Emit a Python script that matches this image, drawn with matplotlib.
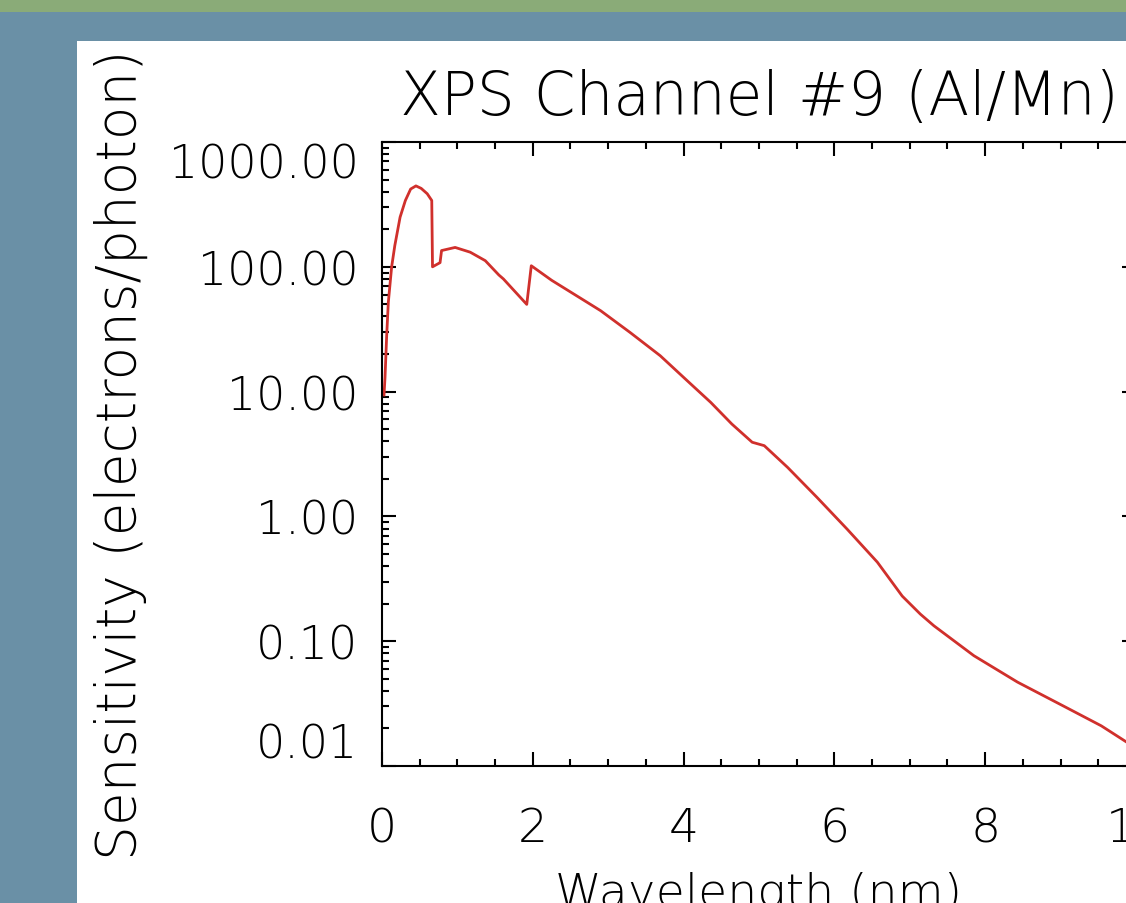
import numpy as np
import matplotlib
matplotlib.use('Agg')
import matplotlib.pyplot as plt
from matplotlib.patches import Rectangle
from matplotlib.ticker import FixedLocator, LogLocator, MultipleLocator, NullFormatter

plt.rcParams['font.family'] = ['DejaVu Sans']
plt.rcParams['font.weight'] = 'light'
plt.rcParams['axes.titleweight'] = 'light'
plt.rcParams['axes.labelweight'] = 'light'

# wavelength (nm) and sensitivity (electrons/photon)
wavelength = [0.027, 0.04, 0.062, 0.084, 0.128, 0.17, 0.24, 0.31, 0.38, 0.45,
              0.52, 0.60, 0.66, 0.67, 0.77, 0.79, 0.97, 1.17, 1.37, 1.55,
              1.61, 1.92, 1.98, 2.25, 2.72, 2.90, 3.29, 3.69, 4.05, 4.36,
              4.64, 4.91, 5.07, 5.38, 5.77, 6.17, 6.57, 6.90, 7.14, 7.32,
              7.85, 8.43, 9.05, 9.54, 9.88, 10.0]
sensitivity = [9.4, 13, 28, 52, 100, 148, 250, 340, 420, 445,
               425, 385, 340, 100, 108, 135, 143, 131, 112, 86,
               80, 50, 102, 78, 52, 44.5, 29.8, 19.4, 12.2, 8.2,
               5.5, 3.93, 3.69, 2.47, 1.42, 0.79, 0.43, 0.23, 0.165, 0.133,
               0.0766, 0.047, 0.030, 0.021, 0.0155, 0.0145]

ytick_vals = [0.01, 0.1, 1, 10, 100, 1000]
xtick_vals = [0, 2, 4, 6, 8, 10]

fig = plt.figure(figsize=(11.26, 9.04), dpi=100)
fig.patch.set_facecolor('#6a90a6')
fig.add_artist(Rectangle((0, 0.9856), 1, 0.0144, transform=fig.transFigure,
                         facecolor='#8aab78', edgecolor='none', zorder=-10))
fig.add_artist(Rectangle((0.0684, 0), 0.9316, 0.9535, transform=fig.transFigure,
                         facecolor='white', edgecolor='none', zorder=-10))

ax = fig.add_axes([0.33925, 0.1515, 0.6696, 0.6903])
ax.plot(wavelength, sensitivity, color='#d0302c', lw=2)

ax.set_yscale('log')
ax.set_xlim(0, 10)
ax.set_ylim(0.01, 1000)

ax.xaxis.set_major_locator(FixedLocator(xtick_vals))
ax.xaxis.set_minor_locator(MultipleLocator(0.5))
ax.yaxis.set_major_locator(FixedLocator(ytick_vals))
ax.yaxis.set_minor_locator(LogLocator(base=10, subs=np.arange(2, 10)))
ax.yaxis.set_minor_formatter(NullFormatter())
ax.set_yticklabels(['%.2f' % v for v in ytick_vals])
ax.set_xticklabels([str(v) for v in xtick_vals])

for s in ax.spines.values():
    s.set_linewidth(1.5)
ax.tick_params(which='both', direction='in', top=True, right=True, width=1.5)
ax.tick_params(which='major', length=10)
ax.tick_params(which='minor', length=5)
ax.tick_params(axis='x', which='major', labelsize=34, pad=29)
ax.tick_params(axis='y', which='major', labelsize=33, pad=17)

yt = ax.yaxis.get_major_ticks()
yt[0].label1.set_va('bottom')
yt[-1].label1.set_va('top')

ax.set_title('XPS Channel #9 (Al/Mn)', fontsize=43, pad=20)
ax.set_xlabel('Wavelength (nm)', fontsize=34)
ax.xaxis.set_label_coords(0.5, -0.168)
ax.set_ylabel('Sensitivity (electrons/photon)', fontsize=39.5)
ax.yaxis.set_label_coords(-0.310, 0.5)

fig.savefig('out.png', dpi=100, facecolor=fig.get_facecolor())
